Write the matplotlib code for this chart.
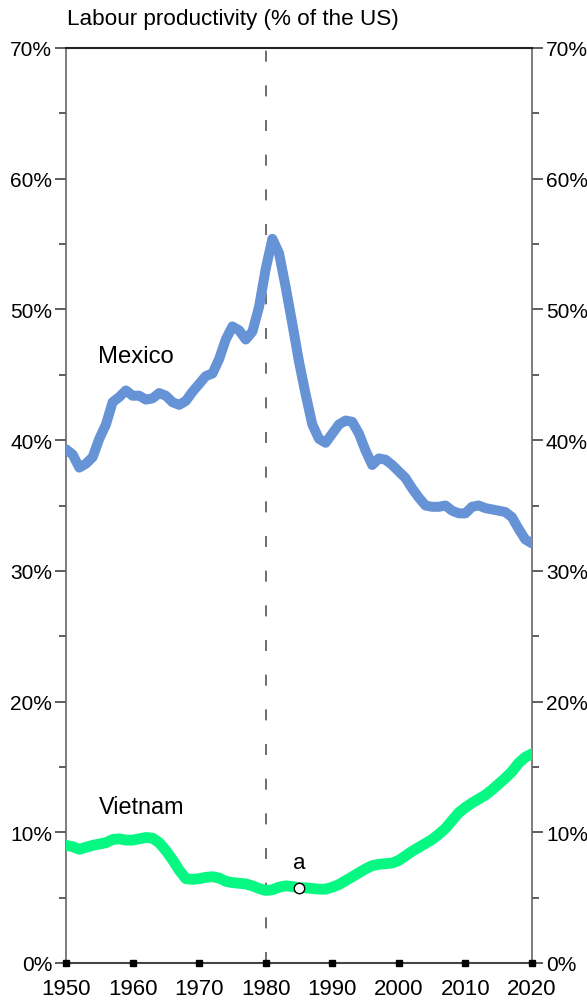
import numpy as np
import matplotlib.pyplot as plt

plt.rcParams['font.family'] = ['Liberation Sans', 'DejaVu Sans']

years = np.arange(1950, 2021)

# labour productivity relative to the US, in percent
mexico = [39.3, 38.9, 37.9, 38.2, 38.7, 40.1, 41.2, 42.9, 43.3, 43.8,
          43.4, 43.4, 43.1, 43.2, 43.6, 43.4, 42.9, 42.7, 43.0, 43.7,
          44.3, 44.9, 45.1, 46.2, 47.7, 48.7, 48.4, 47.7, 48.3, 50.2,
          53.1, 55.4, 54.3, 51.7, 48.9, 46.0, 43.5, 41.2, 40.1, 39.8,
          40.5, 41.2, 41.5, 41.4, 40.5, 39.2, 38.1, 38.6, 38.5, 38.1,
          37.6, 37.1, 36.3, 35.6, 35.0, 34.9, 34.9, 35.0, 34.6, 34.4,
          34.4, 34.9, 35.0, 34.8, 34.7, 34.6, 34.5, 34.1, 33.2, 32.4,
          32.1]
vietnam = [9.0, 8.9, 8.7, 8.85, 9.0, 9.1, 9.2, 9.45, 9.5, 9.4,
           9.4, 9.5, 9.6, 9.55, 9.2, 8.6, 7.9, 7.1, 6.45, 6.4,
           6.45, 6.55, 6.6, 6.5, 6.25, 6.15, 6.1, 6.05, 5.9, 5.7,
           5.55, 5.6, 5.8, 5.9, 5.85, 5.75, 5.75, 5.7, 5.65, 5.65,
           5.8, 6.0, 6.3, 6.6, 6.9, 7.2, 7.45, 7.55, 7.6, 7.65,
           7.85, 8.2, 8.55, 8.85, 9.15, 9.45, 9.85, 10.3, 10.9, 11.5,
           11.9, 12.25, 12.55, 12.85, 13.25, 13.7, 14.15, 14.65, 15.3, 15.75,
           16.0]

decades = [1950, 1960, 1970, 1980, 1990, 2000, 2010, 2020]
pct_ticks = [0, 10, 20, 30, 40, 50, 60, 70]
pct_labels = [f'{p}%' for p in pct_ticks]
mark_year = 1985
mark_label = 'a'
split_year = 1980

fig = plt.figure(figsize=(5.87, 10.03), dpi=100)
ax = fig.add_axes([66 / 587, 1 - 964 / 1003, 466 / 587, 915 / 1003])

ax.axvline(split_year, color='#555555', lw=1.2, dashes=(6.6, 14.2), zorder=1)

ax.plot(years, mexico, color='#6593d6', lw=7.2, solid_capstyle='round',
        solid_joinstyle='round', zorder=3)
ax.plot(years, vietnam, color='#06f882', lw=7.8, solid_capstyle='round',
        solid_joinstyle='round', zorder=3)

v_mark = vietnam[list(years).index(mark_year)]
ax.plot([mark_year], [v_mark], 'o', ms=7.5, mfc='white', mec='black', mew=1,
        zorder=5)
ax.text(mark_year, v_mark + 1.1, mark_label, ha='center', va='bottom',
        fontsize=16)

ax.text(1954.8, 46.4, 'Mexico', fontsize=17.2, ha='left', va='center')
ax.text(1955.0, 12.0, 'Vietnam', fontsize=16.8, ha='left', va='center')

ax.set_xlim(1950, 2020)
ax.set_ylim(0, 70)

ax.set_yticks(pct_ticks)
ax.set_yticklabels(pct_labels)
ax.set_yticks(np.arange(5, 70, 10), minor=True)
ax.tick_params(axis='y', which='major', direction='out', length=8, width=1.1,
               color='#333333', labelsize=15, pad=2, left=True, right=True,
               labelleft=True, labelright=True)
ax.tick_params(axis='y', which='minor', direction='out', length=5, width=1.1,
               color='#333333', left=True, right=True)

ax.set_xticks(decades)
ax.set_xticklabels([str(d) for d in decades])
ax.tick_params(axis='x', which='both', length=0, labelsize=16, pad=11)

# square markers sitting on the baseline at each decade
ax.plot(decades, [0] * len(decades), 's', color='black', ms=5,
        clip_on=False, zorder=6)

for side in ('left', 'right'):
    ax.spines[side].set_color('#666666')
    ax.spines[side].set_linewidth(1.2)
ax.spines['top'].set_color('#222222')
ax.spines['top'].set_linewidth(1.5)
ax.spines['bottom'].set_color('#444444')
ax.spines['bottom'].set_linewidth(1.5)

fig.text(67 / 587, 1 - 20 / 1003, 'Labour productivity (% of the US)',
         fontsize=16.2, ha='left', va='center')

fig.savefig('out.png', dpi=100)
